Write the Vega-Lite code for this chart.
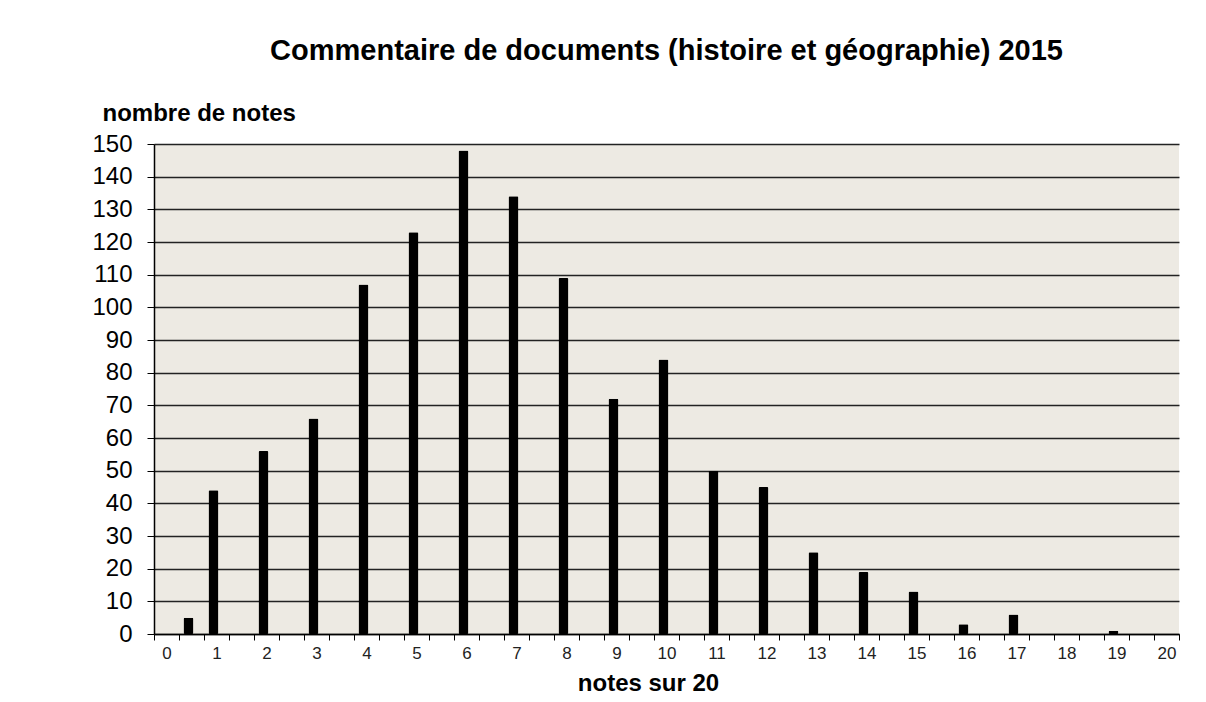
{
  "$schema": "https://vega.github.io/schema/vega-lite/v6.json",
  "autosize": "none",
  "width": 1025,
  "height": 490,
  "padding": {"left": 154, "top": 144, "right": 27, "bottom": 68},
  "background": "white",
  "title": {
    "text": "Commentaire de documents (histoire et géographie) 2015",
    "font": "Liberation Sans",
    "fontSize": 29,
    "fontWeight": "bold",
    "color": "#000000",
    "anchor": "middle",
    "offset": 35
  },
  "data": {
    "values": [
      {"note": 0.5, "n": 5},
      {"note": 1, "n": 44},
      {"note": 2, "n": 56},
      {"note": 3, "n": 66},
      {"note": 4, "n": 107},
      {"note": 5, "n": 123},
      {"note": 6, "n": 148},
      {"note": 7, "n": 134},
      {"note": 8, "n": 109},
      {"note": 9, "n": 72},
      {"note": 10, "n": 84},
      {"note": 11, "n": 50},
      {"note": 12, "n": 45},
      {"note": 13, "n": 25},
      {"note": 14, "n": 19},
      {"note": 15, "n": 13},
      {"note": 16, "n": 3},
      {"note": 17, "n": 6},
      {"note": 19, "n": 1}
    ]
  },
  "mark": {"type": "bar", "color": "#000000", "width": 10, "xOffset": -3, "cornerRadius": 1.5},
  "encoding": {
    "x": {
      "field": "note",
      "type": "ordinal",
      "scale": {
        "domain": [0,0.5,1,1.5,2,2.5,3,3.5,4,4.5,5,5.5,6,6.5,7,7.5,8,8.5,9,9.5,10,10.5,11,11.5,12,12.5,13,13.5,14,14.5,15,15.5,16,16.5,17,17.5,18,18.5,19,19.5,20],
        "paddingInner": 0,
        "paddingOuter": 0
      },
      "axis": {
        "title": "notes sur 20",
        "titleFont": "Liberation Sans",
        "titleFontSize": 24,
        "titleFontWeight": "bold",
        "titleColor": "#000000",
        "titleX": 494,
        "titleY": 56,
        "titleBaseline": "alphabetic",
        "titleAnchor": null,
        "titleAlign": "center",
        "labelAngle": 0,
        "labelFont": "Liberation Sans",
        "labelFontSize": 17,
        "labelColor": "#222222",
        "labelPadding": 5,
        "labelExpr": "datum.value % 1 === 0 ? datum.label : ''",
        "tickBand": "extent",
        "tickSize": 6,
        "tickColor": "#000000",
        "tickWidth": 1,
        "domainColor": "#000000",
        "domainWidth": 1.5,
        "grid": false
      }
    },
    "y": {
      "field": "n",
      "type": "quantitative",
      "scale": {"domain": [0, 150], "nice": false},
      "axis": {
        "title": "nombre de notes",
        "titleFont": "Liberation Sans",
        "titleFontSize": 24,
        "titleFontWeight": "bold",
        "titleColor": "#000000",
        "titleAngle": 0,
        "titleAnchor": null,
        "titleX": -52,
        "titleY": -24,
        "titleAlign": "left",
        "titleBaseline": "alphabetic",
        "values": [0,10,20,30,40,50,60,70,80,90,100,110,120,130,140,150],
        "labelFont": "Liberation Sans",
        "labelFontSize": 24,
        "labelColor": "#000000",
        "labelPadding": 15,
        "tickSize": 7,
        "tickColor": "#000000",
        "domainColor": "#000000",
        "domainWidth": 1.5,
        "grid": true,
        "gridColor": "#222222",
        "gridWidth": 1.5
      }
    }
  },
  "config": {
    "view": {"fill": "#EDEAE3", "stroke": null}
  }
}
